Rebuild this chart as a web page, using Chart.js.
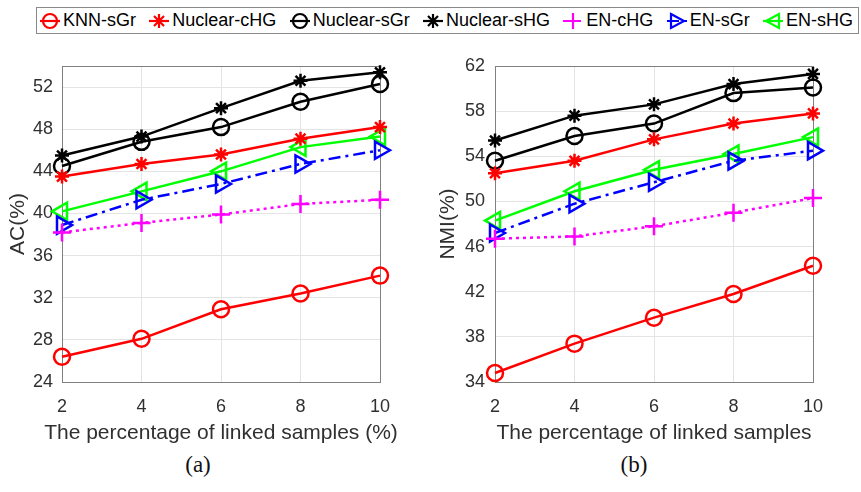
<!DOCTYPE html>
<html>
<head>
<meta charset="utf-8">
<script src="https://cdn.jsdelivr.net/npm/chart.js@4/dist/chart.umd.min.js"></script>
<style>
    body { margin: 0; background: #fff; width: 861px; height: 492px; position: relative; overflow: hidden; font-family: "Liberation Sans", Arial, sans-serif; }
    #legend {
        position: absolute; left: 36px; top: 7px; width: 823px; height: 27px; box-sizing: border-box;
        border: 1px solid #8a8a8a; display: flex; justify-content: space-between; align-items: center;
        padding: 0 5px 0 3px; font-size: 18px; color: #000;
    }
    .item { display: flex; align-items: center; white-space: nowrap; }
    .item svg { margin-right: 3px; }
    canvas { position: absolute; top: 40px; }
    .cap { position: absolute; top: 452px; font: 23px "Liberation Serif", serif; transform: translateX(-50%); color: #111; }
</style>
</head>
<body>
<div id="legend"></div>
<canvas id="acChart" width="430" height="410" style="left:0"></canvas>
<canvas id="nmiChart" width="431" height="410" style="left:430px"></canvas>
<div class="cap" style="left:198px">(a)</div>
<div class="cap" style="left:634px">(b)</div>
<script>
// values
const xValues = [2, 4, 6, 8, 10]
const seriesNames = ['KNN-sGr', 'Nuclear-cHG', 'Nuclear-sGr', 'Nuclear-sHG', 'EN-cHG', 'EN-sGr', 'EN-sHG']

const acKnnSgr     = [26.4, 28.1, 30.9, 32.4, 34.1]
const acNuclearCHG = [43.5, 44.7, 45.6, 47.1, 48.2]
const acNuclearSGr = [44.5, 46.8, 48.2, 50.6, 52.3]
const acNuclearSHG = [45.5, 47.3, 50.0, 52.6, 53.4]
const acEnCHG      = [38.2, 39.1, 39.9, 40.9, 41.3]
const acEnSGr      = [38.9, 41.3, 42.8, 44.7, 46.0]
const acEnSHG      = [40.2, 42.1, 44.0, 46.3, 47.3]

const nmiKnnSgr     = [34.8, 37.4, 39.7, 41.8, 44.3]
const nmiNuclearCHG = [52.5, 53.6, 55.5, 56.9, 57.8]
const nmiNuclearSGr = [53.6, 55.8, 56.9, 59.6, 60.1]
const nmiNuclearSHG = [55.4, 57.6, 58.6, 60.4, 61.3]
const nmiEnCHG      = [46.7, 46.9, 47.8, 49.0, 50.3]
const nmiEnSGr      = [47.2, 49.8, 51.7, 53.6, 54.5]
const nmiEnSHG      = [48.3, 50.9, 52.8, 54.2, 55.7]

const acTicks = [24, 28, 32, 36, 40, 44, 48, 52]
const nmiTicks = [34, 38, 42, 46, 50, 54, 58, 62]

const acSeries = [acKnnSgr, acNuclearCHG, acNuclearSGr, acNuclearSHG, acEnCHG, acEnSGr, acEnSHG]
const nmiSeries = [nmiKnnSgr, nmiNuclearCHG, nmiNuclearSGr, nmiNuclearSHG, nmiEnCHG, nmiEnSGr, nmiEnSHG]

const looks = [
    { color: '#ff0000', point: 'circle', rot: 0, r: 8, dash: [] },
    { color: '#ff0000', point: 'star', rot: 0, r: 7, dash: [] },
    { color: '#000000', point: 'circle', rot: 0, r: 8, dash: [] },
    { color: '#000000', point: 'star', rot: 0, r: 7, dash: [] },
    { color: '#ff00ff', point: 'cross', rot: 0, r: 9, dash: [3, 4] },
    { color: '#0000ff', point: 'triangle', rot: 90, r: 10, dash: [12, 5, 3, 5] },
    { color: '#00ff00', point: 'triangle', rot: -90, r: 10, dash: [] }
]

const FONT = '"Liberation Sans", Arial, sans-serif'
Chart.defaults.font.family = FONT
Chart.defaults.color = '#303030'

const boxPlugin = {
    id: 'box',
    beforeDatasetsDraw(chart) {
        const { ctx, chartArea: a } = chart
        ctx.save()
        ctx.strokeStyle = '#808080'
        ctx.lineWidth = 1
        ctx.strokeRect(a.left + 0.5, a.top + 0.5, a.right - a.left, a.bottom - a.top)
        ctx.restore()
    }
}

// x title drawn here so it may run wider than the plot (Chart.js squeezes it otherwise)
const xTitlePlugin = {
    id: 'xTitle',
    afterDraw(chart, args, opts) {
        const { ctx, chartArea: a } = chart
        ctx.save()
        ctx.font = `21px ${FONT}`
        ctx.fillStyle = '#303030'
        ctx.textAlign = 'center'
        ctx.textBaseline = 'middle'
        ctx.fillText(opts.text, (a.left + a.right) / 2, chart.scales.x.bottom - 17)
        ctx.restore()
    }
}

function makeChart(id, series, ticks, yMax, yTitle, xTitle, yWidth, padRight, tickGap) {
    const datasets = series.map((vals, i) => ({
        label: seriesNames[i],
        data: xValues.map((x, j) => ({ x, y: vals[j] })),
        borderColor: looks[i].color,
        backgroundColor: 'transparent',
        borderWidth: 2.5,
        borderDash: looks[i].dash,
        pointStyle: looks[i].point,
        pointRotation: looks[i].rot,
        pointRadius: looks[i].r,
        pointBorderWidth: 2.5,
        pointBorderColor: looks[i].color,
        pointBackgroundColor: 'transparent',
        tension: 0,
        clip: false
    }))
    return new Chart(document.getElementById(id), {
        type: 'line',
        data: { datasets },
        options: {
            responsive: false,
            animation: false,
            events: [],
            layout: { padding: { top: 26, right: padRight, left: 0, bottom: 0 } },
            plugins: { legend: { display: false }, tooltip: { enabled: false }, xTitle: { text: xTitle } },
            scales: {
                x: {
                    type: 'linear', min: xValues[0], max: xValues[xValues.length - 1],
                    afterBuildTicks: scale => { scale.ticks = xValues.map(v => ({ value: v })) },
                    afterFit: scale => { scale.height = 68 },
                    grid: { color: '#e4e4e4', drawTicks: false },
                    border: { display: true, color: '#808080' },
                    ticks: { font: { size: 18 }, padding: 14, maxRotation: 0 }
                },
                y: {
                    type: 'linear', min: ticks[0], max: yMax,
                    afterBuildTicks: scale => { scale.ticks = ticks.map(v => ({ value: v })) },
                    afterFit: scale => { scale.width = yWidth },
                    grid: { color: '#e4e4e4', drawTicks: false },
                    border: { display: true, color: '#808080' },
                    ticks: { font: { size: 18 }, padding: tickGap },
                    title: { display: true, text: yTitle, font: { size: 21 }, padding: { top: 6, bottom: 0 } }
                }
            }
        },
        plugins: [boxPlugin, xTitlePlugin]
    })
}

// legend
function markerSvg(look) {
    const c = look.color
    const s = `stroke="${c}" stroke-width="2.2" fill="none"`
    let m = ''
    if (look.point === 'circle') m = `<circle cx="10" cy="10" r="7" ${s}/>`
    else if (look.point === 'star') m = `<path d="M10 3V17M3 10H17M5 5L15 15M15 5L5 15" ${s}/>`
    else if (look.point === 'cross') m = `<path d="M10 2V18M2 10H18" ${s}/>`
    else if (look.rot > 0) m = `<polygon points="4,3 17,10 4,17" ${s}/>`
    else m = `<polygon points="16,3 3,10 16,17" ${s}/>`
    const dash = look.dash.length ? `stroke-dasharray="${look.dash.join(' ')}"` : ''
    return `<svg width="20" height="20" viewBox="0 0 20 20"><line x1="0" y1="10" x2="20" y2="10" ${s} ${dash}/>${m}</svg>`
}

document.getElementById('legend').innerHTML = seriesNames.map((name, i) =>
    `<div class="item">${markerSvg(looks[i])}<span>${name}</span></div>`
).join('')

Promise.all([
    document.fonts.load(`21px ${FONT}`),
    document.fonts.load(`18px ${FONT}`)
]).catch(() => {}).then(() => {
    makeChart('acChart', acSeries, acTicks, 54, 'AC(%)', 'The percentage of linked samples (%)', 62, 50, 9)
    makeChart('nmiChart', nmiSeries, nmiTicks, 62, 'NMI(%)', 'The percentage of linked samples', 65, 48, 10)
})
</script>
</body>
</html>
